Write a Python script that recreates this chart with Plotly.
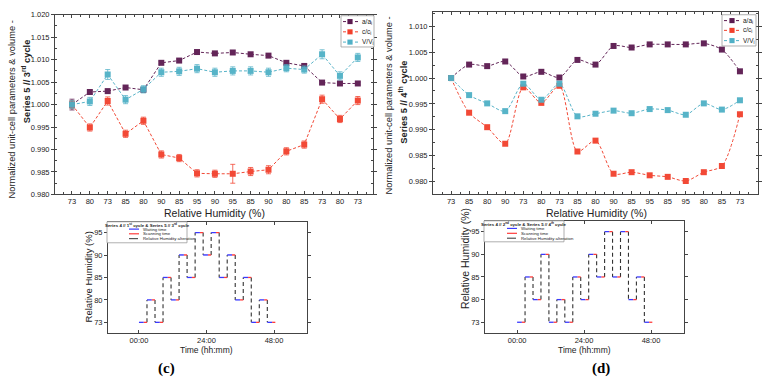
import plotly.graph_objects as go

# ---------------- data ----------------
rh_c3 = [73, 80, 73, 85, 80, 90, 85, 95, 90, 95, 85, 90, 80, 85, 73, 80, 73]
a_c3 = [1.0000, 1.0028, 1.0030, 1.0038, 1.0033, 1.0093, 1.0098, 1.0117, 1.0114,
        1.0116, 1.0112, 1.0109, 1.0093, 1.0086, 1.0049, 1.0047, 1.0047]
c_c3 = [1.0000, 0.9949, 1.0008, 0.9935, 0.9964, 0.9889, 0.9881, 0.9847, 0.9846,
        0.9846, 0.9851, 0.9855, 0.9896, 0.9911, 1.0012, 0.9968, 1.0009]
v_c3 = [1.0000, 1.0007, 1.0067, 1.0011, 1.0034, 1.0072, 1.0074, 1.0080, 1.0072,
        1.0075, 1.0075, 1.0072, 1.0081, 1.0078, 1.0112, 1.0064, 1.0105]
a_c3_err = [0.0012, 0.0003, 0.0003, 0.0003, 0.0003, 0.0003, 0.0003, 0.0003, 0.0003,
            0.0003, 0.0003, 0.0003, 0.0003, 0.0003, 0.0003, 0.0003, 0.0003]
c_c3_err = [0.0009, 0.0008, 0.0009, 0.0008, 0.0008, 0.0008, 0.0008, 0.0008, 0.0008,
            0.0021, 0.0009, 0.0009, 0.0008, 0.0008, 0.0009, 0.0008, 0.0009]
v_c3_err = [0.0009, 0.0009, 0.0011, 0.0009, 0.0008, 0.0009, 0.0009, 0.0009, 0.0009,
            0.0009, 0.0009, 0.0009, 0.0008, 0.0008, 0.0010, 0.0009, 0.0009]

rh_c4 = [73, 85, 80, 90, 73, 80, 73, 85, 80, 90, 85, 95, 85, 95, 80, 85, 73]
a_c4 = [1.0000, 1.0026, 1.0023, 1.0032, 1.0003, 1.0012, 1.0001, 1.0035, 1.0026,
        1.0062, 1.0059, 1.0065, 1.0065, 1.0065, 1.0067, 1.0055, 1.0013]
c_c4 = [1.0000, 0.9933, 0.9905, 0.9873, 0.9982, 0.9952, 0.9985, 0.9858, 0.9879,
        0.9815, 0.9818, 0.9812, 0.9809, 0.9801, 0.9818, 0.9830, 0.9930]
v_c4 = [1.0000, 0.9967, 0.9951, 0.9936, 0.9989, 0.9958, 0.9989, 0.9926, 0.9931,
        0.9937, 0.9932, 0.9940, 0.9938, 0.9929, 0.9951, 0.9939, 0.9957]

dwell_hours = 2.85          # time spent at each RH step
scan_fraction = 0.40        # last part of each step = scanning time
rh_levels = ["73", "80", "85", "90", "95"]
time_ticks = [0, 24, 48]
time_labels = ["00:00", "24:00", "48:00"]

ratio_names = ["a/a<sub>i</sub>", "c/c<sub>i</sub>", "V/V<sub>i</sub>"]
step_names = ["Waiting time", "Scanning time", "Relative Humidity alteration"]
legend3_title = "<b>Series 4 // 1<sup>st</sup> cycle &amp; Series 5 // 3<sup>rd</sup> cycle</b>"
legend4_title = "<b>Series 4 // 2<sup>nd</sup> cycle &amp; Series 5 // 4<sup>th</sup> cycle</b>"

# ---------------- styles ----------------
PURPLE = "#5b1a50"
RED = "#f2402c"
CYAN = "#4fb0c6"
BLUE = "#3a3aff"
SRED = "#ff3b3b"
DASHC = "#333333"
FONT = "Liberation Sans, Arial, sans-serif"
W, H = 767, 385

fig = go.Figure()


def px_x(p):
    return p / W


def px_y(p):
    return 1 - p / H


def add_ratio(xa, ya, vals, err, color, name, spline):
    idx = list(range(len(vals)))
    fig.add_trace(go.Scatter(
        x=idx, y=vals, mode="lines+markers", name=name, showlegend=False,
        xaxis=xa, yaxis=ya,
        line=dict(color=color, width=1, dash="3px,2px",
                  shape="spline" if spline else "linear", smoothing=0.8),
        marker=dict(symbol="square", size=6, color=color),
        opacity=0.95,
        error_y=None if err is None else dict(type="data", array=err, visible=True,
                                              color=color, thickness=0.8, width=2.5),
    ))


add_ratio("x", "y", a_c3, a_c3_err, PURPLE, ratio_names[0], False)
add_ratio("x", "y", c_c3, c_c3_err, RED, ratio_names[1], False)
add_ratio("x", "y", v_c3, v_c3_err, CYAN, ratio_names[2], False)
add_ratio("x2", "y2", a_c4, None, PURPLE, ratio_names[0], True)
add_ratio("x2", "y2", c_c4, None, RED, ratio_names[1], True)
add_ratio("x2", "y2", v_c4, None, CYAN, ratio_names[2], True)


def add_steps(xa, ya, levels):
    wx, wy, sx, sy, dx, dy = [], [], [], [], [], []
    for i, lv in enumerate(levels):
        t0 = i * dwell_hours
        t1 = t0 + (1 - scan_fraction) * dwell_hours
        t2 = (i + 1) * dwell_hours
        wx += [t0, t1, None]
        wy += [str(lv), str(lv), None]
        sx += [t1, t2, None]
        sy += [str(lv), str(lv), None]
        if i + 1 < len(levels):
            dx += [t2, t2, None]
            dy += [str(lv), str(levels[i + 1]), None]
    fig.add_trace(go.Scatter(x=dx, y=dy, mode="lines", name=step_names[2], showlegend=False,
                             xaxis=xa, yaxis=ya,
                             line=dict(color=DASHC, width=1.1, dash="4px,3px")))
    fig.add_trace(go.Scatter(x=wx, y=wy, mode="lines", name=step_names[0], showlegend=False,
                             xaxis=xa, yaxis=ya, line=dict(color=BLUE, width=1.3)))
    fig.add_trace(go.Scatter(x=sx, y=sy, mode="lines", name=step_names[1], showlegend=False,
                             xaxis=xa, yaxis=ya, line=dict(color=SRED, width=1.3)))


add_steps("x3", "y3", rh_c3)
add_steps("x4", "y4", rh_c4)

# ---------------- axes ----------------
frame = dict(showline=True, linecolor="#444", linewidth=1, mirror="ticks",
             ticklen=3, tickcolor="#444", showgrid=False,
             zeroline=False, tickfont=dict(family=FONT, size=7.5, color="#222"))
minor_in = dict(ticklen=2, ticks="inside", tickcolor="#444")

fig.update_layout(
    width=W, height=H, margin=dict(l=0, r=0, t=0, b=0), showlegend=False,
    paper_bgcolor="white", plot_bgcolor="white", font=dict(family=FONT),
    xaxis=dict(domain=[px_x(55), px_x(373)], anchor="y", range=[-0.95, 16.85],
               tickmode="array", tickvals=list(range(len(rh_c3))),
               ticktext=[str(v) for v in rh_c3], ticks="inside",
               minor=dict(tick0=0.5, dtick=1, **minor_in), **frame),
    yaxis=dict(domain=[px_y(195), px_y(11)], anchor="x", range=[0.980, 1.020],
               dtick=0.005, tickformat=".3f", ticks="outside",
               minor=dict(dtick=0.0025, **minor_in), **frame),
    xaxis2=dict(domain=[px_x(433), px_x(758)], anchor="y2", range=[-1, 17],
                tickmode="array", tickvals=list(range(len(rh_c4))),
                ticktext=[str(v) for v in rh_c4], ticks="inside",
                minor=dict(tick0=0.5, dtick=1, **minor_in), **frame),
    yaxis2=dict(domain=[px_y(195), px_y(8)], anchor="x2", range=[0.9775, 1.0128],
                tick0=0.98, dtick=0.005, tickformat=".3f", ticks="outside",
                minor=dict(dtick=0.0025, **minor_in), **frame),
    xaxis3=dict(domain=[px_x(108), px_x(307)], anchor="y3", range=[-11, 59.7],
                tickmode="array", tickvals=time_ticks, ticktext=time_labels,
                ticks="inside", **frame),
    yaxis3=dict(domain=[px_y(337), px_y(223)], anchor="x3", type="category",
                categoryorder="array", categoryarray=rh_levels, range=[-0.48, 4.48],
                ticks="outside", **frame),
    xaxis4=dict(domain=[px_x(485), px_x(684)], anchor="y4", range=[-11.5, 59.8],
                tickmode="array", tickvals=time_ticks, ticktext=time_labels,
                ticks="inside", **frame),
    yaxis4=dict(domain=[px_y(337), px_y(222)], anchor="x4", type="category",
                categoryorder="array", categoryarray=rh_levels, range=[-0.48, 4.48],
                ticks="outside", **frame),
)


# ---------------- titles / labels ----------------
def ann(text, x, y, size, angle=0, family=FONT, color="#222", xanchor="center"):
    fig.add_annotation(text=text, x=px_x(x), y=px_y(y), xref="paper", yref="paper",
                       showarrow=False, textangle=angle, xanchor=xanchor, yanchor="middle",
                       font=dict(family=family, size=size, color=color))


ann("Normalized unit-cell parameters &amp; volume -", 12, 108, 9.3, -90)
ann("<b>Series 5 // 3<sup>rd</sup> cycle</b>", 26, 79, 9.3, -90)
ann("Normalized unit-cell parameters &amp; volume -", 389, 104, 9.3, -90)
ann("<b>Series 5 // 4<sup>th</sup> cycle</b>", 403, 101, 9.3, -90)
ann("Relative Humidity (%)", 214, 214, 10.5)
ann("Relative Humidity (%)", 596, 214, 10.5)
ann("Relative Humidity (%)", 88, 280, 9.5, -90)
ann("Relative Humidity (%)", 465, 261, 10.5, -90)
ann("Time (hh:mm)", 207, 354, 8.5)
ann("Time (hh:mm)", 584, 354, 8.5)
ann("<b>(c)</b>", 166, 373, 15, family="Liberation Serif, Times New Roman, serif", color="#000")
ann("<b>(d)</b>", 601, 373, 15, family="Liberation Serif, Times New Roman, serif", color="#000")


# ---------------- legends (compact, drawn as decorations) ----------------
def box(x0, y0, x1, y1):
    fig.add_shape(type="rect", xref="paper", yref="paper",
                  x0=px_x(x0), x1=px_x(x1), y0=px_y(y1), y1=px_y(y0),
                  line=dict(color="#9a9a9a", width=0.8), fillcolor="white", layer="above")


def seg(x0, x1, y, color, dash, width):
    fig.add_shape(type="line", xref="paper", yref="paper",
                  x0=px_x(x0), x1=px_x(x1), y0=px_y(y), y1=px_y(y),
                  line=dict(color=color, width=width, dash=dash), layer="above")


def square(xc, yc, color, s=2.6):
    fig.add_shape(type="rect", xref="paper", yref="paper",
                  x0=px_x(xc - s), x1=px_x(xc + s), y0=px_y(yc + s), y1=px_y(yc - s),
                  line=dict(width=0), fillcolor=color, layer="above")


colors = [PURPLE, RED, CYAN]
# top-left legend
box(341, 12, 374, 44)
for k, yy in enumerate([18, 28.5, 39]):
    seg(343, 358, yy, colors[k], "dot", 1)
    square(350, yy, colors[k])
    ann(ratio_names[k], 360, yy, 6.5, xanchor="left")
# top-right legend
box(722, 11, 756, 43)
for k, yy in enumerate([17, 27, 37.5]):
    seg(724, 740, yy, colors[k], "dot", 1)
    square(732, yy, colors[k])
    ann(ratio_names[k], 741, yy, 6.5, xanchor="left")

step_styles = [(BLUE, "solid", 1.2), (SRED, "solid", 1.2), (DASHC, "dash", 1)]
# bottom-left legend
box(107, 223, 187, 244.5)
ann(legend3_title, 147, 226.5, 4.4)
for k, yy in enumerate([230.5, 235.3, 240.3]):
    seg(129, 139, yy, *step_styles[k])
    ann(step_names[k], 140.5, yy, 4.3, xanchor="left")
# bottom-right legend
box(484, 222, 564, 243.5)
ann(legend4_title, 524, 225.5, 4.4)
for k, yy in enumerate([229.8, 234.8, 239.8]):
    seg(507, 517, yy, *step_styles[k])
    ann(step_names[k], 518.5, yy, 4.3, xanchor="left")

fig.write_html("out.html")
